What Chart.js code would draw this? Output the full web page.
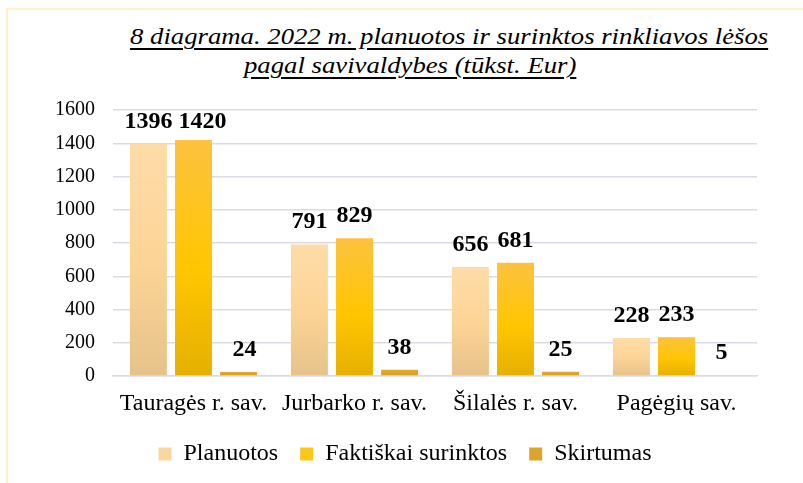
<!DOCTYPE html>
<html lang="lt">
<head>
    <meta charset="UTF-8">
    <title>8 diagrama</title>
    <style>
        body {
            margin: 0;
            background-color: #fff;
        }
        .wrap {
            position: relative;
            width: 803px;
            height: 483px;
            overflow: hidden;
        }
        .frame {
            position: absolute;
            left: 6px;
            top: 8px;
            width: 820px;
            height: 500px;
            border-top: 2px solid #fff2cc;
            border-left: 2px solid #fff2cc;
        }
        .title {
            position: absolute;
            font-family: "Liberation Serif", serif;
            font-style: italic;
            font-size: 24px;
            text-decoration: underline;
            text-decoration-thickness: 2px;
            text-underline-offset: 4px;
            color: #000;
            white-space: nowrap;
            line-height: 1;
            transform-origin: left top;
            transform: scaleX(1.113);
        }
        #t1 { left: 130px; top: 24px; }
        #t2 { left: 244px; top: 53px; }
        #chartBox {
            position: absolute;
            left: 0;
            top: 0;
            width: 803px;
            height: 483px;
        }
    </style>
</head>
<body>
<div class="wrap">
    <div class="frame"></div>
    <div class="title" id="t1">8 diagrama. 2022 m. planuotos ir surinktos rinkliavos lėšos</div>
    <div class="title" id="t2">pagal savivaldybes (tūkst. Eur)</div>
    <div id="chartBox"><canvas id="chart"></canvas></div>
</div>

<script src="https://cdn.jsdelivr.net/npm/chart.js"></script>
<script>
    const categories = ['Tauragės r. sav.', 'Jurbarko r. sav.', 'Šilalės r. sav.', 'Pagėgių sav.'];
    const planned = [1396, 791, 656, 228];
    const collected = [1420, 829, 681, 233];
    const difference = [24, 38, 25, 5];
    const seriesNames = ['Planuotos', 'Faktiškai surinktos', 'Skirtumas'];

    const serif = '"Liberation Serif", "Times New Roman", serif';

    // per-bar vertical gradient, like the Excel fill
    function barGradient(stops, fallback) {
        return function (ctx) {
            const chart = ctx.chart;
            const y = chart.scales.y;
            if (!chart.chartArea || !y || ctx.type !== 'data') return fallback;
            const top = y.getPixelForValue(ctx.raw);
            const bottom = y.getPixelForValue(0);
            if (!isFinite(top) || bottom - top < 1) return fallback;
            const g = chart.ctx.createLinearGradient(0, top, 0, bottom);
            stops.forEach(s => g.addColorStop(s[0], s[1]));
            return g;
        };
    }

    // value above each bar; pushes a label right if it would run into its neighbour
    const valueLabels = {
        id: 'valueLabels',
        afterDatasetsDraw(chart) {
            const c = chart.ctx;
            c.save();
            c.font = 'bold 24px ' + serif;
            c.fillStyle = '#000';
            c.textAlign = 'center';
            c.textBaseline = 'alphabetic';
            chart.data.labels.forEach((lab, j) => {
                let prevRight = -Infinity;
                chart.data.datasets.forEach((ds, i) => {
                    const bar = chart.getDatasetMeta(i).data[j];
                    const txt = String(ds.data[j]);
                    const w = c.measureText(txt).width;
                    let x = bar.x;
                    if (x - w / 2 < prevRight + 6) x = prevRight + 6 + w / 2;
                    prevRight = x + w / 2;
                    c.fillText(txt, x, Math.max(bar.y - 16, 128));
                });
            });
            c.restore();
        }
    };

    new Chart(document.getElementById('chart'), {
        type: 'bar',
        data: {
            labels: categories,
            datasets: [{
                label: seriesNames[0],
                data: planned,
                backgroundColor: barGradient([[0, '#fedca8'], [0.5, '#fcd497'], [1, '#e6c28a']], '#f9d59c')
            }, {
                label: seriesNames[1],
                data: collected,
                backgroundColor: barGradient([[0, '#fdc23f'], [0.55, '#ffc600'], [1, '#e5b000']], '#fcc21a')
            }, {
                label: seriesNames[2],
                data: difference,
                backgroundColor: barGradient([[0, '#e3a838'], [1, '#d79e1c']], '#dea42a')
            }]
        },
        options: {
            responsive: true,
            maintainAspectRatio: false,
            animation: false,
            categoryPercentage: 0.84,
            barPercentage: 0.82,
            layout: {
                // left padding nudges the legend to the right; y axis width makes up for it
                padding: { top: 110, right: 46, bottom: 7, left: 53 }
            },
            plugins: {
                title: { display: false },
                tooltip: { enabled: false },
                legend: {
                    position: 'bottom',
                    labels: {
                        color: '#000',
                        font: { family: serif, size: 24 },
                        boxWidth: 13,
                        boxHeight: 13,
                        padding: 22,
                        generateLabels(chart) {
                            const cols = ['#fbd79f', '#fec619', '#dca42a'];
                            return chart.data.datasets.map((ds, i) => ({
                                text: ds.label,
                                fillStyle: cols[i],
                                strokeStyle: cols[i],
                                lineWidth: 0,
                                datasetIndex: i
                            }));
                        }
                    }
                }
            },
            scales: {
                x: {
                    grid: { display: false, drawTicks: false },
                    border: { display: true, color: '#d9dde3', width: 1.5 },
                    ticks: {
                        color: '#000',
                        font: { family: serif, size: 24 },
                        padding: 13
                    },
                    afterFit(scale) { scale.height = 44; }
                },
                y: {
                    min: 0,
                    max: 1600,
                    ticks: {
                        stepSize: 200,
                        color: '#000',
                        font: { family: serif, size: 20 },
                        padding: 18,
                        callback: v => String(v)
                    },
                    grid: { color: '#d9dde3', lineWidth: 1.5, drawTicks: false },
                    border: { display: false },
                    afterFit(scale) { scale.width = 60; }
                }
            }
        },
        plugins: [valueLabels]
    });
</script>
</body>
</html>
